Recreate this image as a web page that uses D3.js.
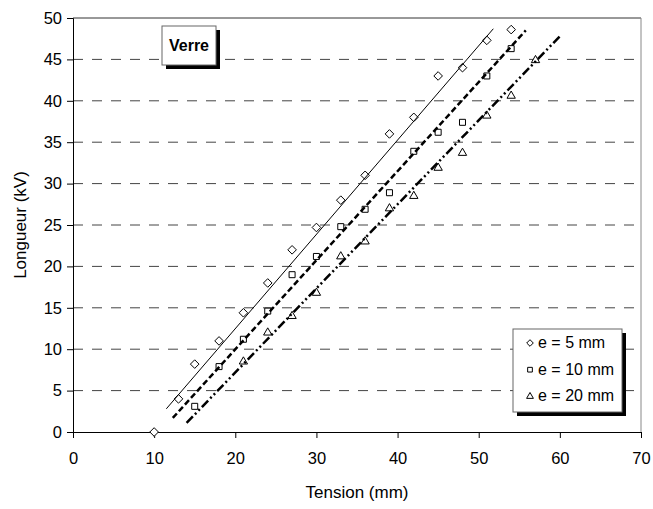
<!DOCTYPE html>
<html>
<head>
<meta charset="utf-8">
<script src="https://cdn.jsdelivr.net/npm/d3@7"></script>
<style>
  body { margin: 0; background: #fff; }
  text { font-family: "Liberation Sans", Arial, sans-serif; }
</style>
</head>
<body>
<div id="chart"></div>
<script>
// Data (Tension in mm, Longueur in kV)
const x5 = [10, 13, 15, 18, 21, 24, 27, 30, 33, 36, 39, 42, 45, 48, 51, 54];
const y5 = [0, 4, 8.2, 11, 14.4, 18, 22, 24.7, 28, 31, 36, 38, 43, 44, 47.3, 48.6];

const x10 = [15, 18, 21, 24, 27, 30, 33, 36, 39, 42, 45, 48, 51, 54];
const y10 = [3.1, 7.9, 11.2, 14.6, 19, 21.2, 24.8, 26.9, 28.9, 33.9, 36.2, 37.4, 43, 46.3];

const x20 = [21, 24, 27, 30, 33, 36, 39, 42, 45, 48, 51, 54, 57];
const y20 = [8.5, 12, 14, 16.8, 21.2, 23, 27, 28.5, 31.9, 33.7, 38.2, 40.6, 44.9];

// trendline end points
const trendX5 = [11.5, 51.8], trendY5 = [2.8, 48.7];
const trendX10 = [12.3, 55.8], trendY10 = [1.7, 48.5];
const trendX20 = [14.0, 60.1], trendY20 = [1.1, 47.9];

const xTicks = [0, 10, 20, 30, 40, 50, 60, 70];
const yTicks = [0, 5, 10, 15, 20, 25, 30, 35, 40, 45, 50];
const legendLabels = ["e = 5 mm", "e = 10 mm", "e = 20 mm"];

const margin = { top: 18, right: 12, bottom: 77, left: 73 };
const W = 653, H = 509;
const width = W - margin.left - margin.right;
const height = H - margin.top - margin.bottom;

const svg = d3.select("#chart").append("svg")
    .attr("width", W)
    .attr("height", H);

const g = svg.append("g")
    .attr("transform", `translate(${margin.left},${margin.top})`);

const xScale = d3.scaleLinear().domain([0, 70]).range([0, width]);
const yScale = d3.scaleLinear().domain([0, 50]).range([height, 0]);

// grid lines
g.selectAll(".grid")
    .data(yTicks.filter(d => d > 0 && d < 50))
    .enter()
    .append("line")
    .attr("x1", 0)
    .attr("x2", width)
    .attr("y1", d => yScale(d))
    .attr("y2", d => yScale(d))
    .attr("stroke", "#444")
    .attr("stroke-width", 1)
    .attr("stroke-dasharray", "10,9");

// plot border top and right
g.append("line").attr("x1", 0).attr("x2", width).attr("y1", 0).attr("y2", 0)
    .attr("stroke", "#333").attr("stroke-width", 1);
g.append("line").attr("x1", width).attr("x2", width).attr("y1", 0).attr("y2", height)
    .attr("stroke", "#888").attr("stroke-width", 1);

// axes
const xAxis = g.append("g")
    .attr("transform", `translate(0,${height})`)
    .call(d3.axisBottom(xScale).tickValues(xTicks).tickSize(6).tickPadding(14));
const yAxis = g.append("g")
    .call(d3.axisLeft(yScale).tickValues(yTicks).tickSize(6).tickPadding(5));

[xAxis, yAxis].forEach(a => {
    a.selectAll("path, line").attr("stroke", "#000");
    a.selectAll("text")
        .style("font-size", "16.5px")
        .style("font-family", "'Liberation Sans', Arial, sans-serif")
        .attr("fill", "#000");
});

// markers (diamond as a square turned 45 degrees)
const diamondPath = r => `M0,${-r}L${r},0L0,${r}L${-r},0Z`;
const square = d3.symbol().type(d3.symbolSquare).size(36);
const triangle = d3.symbol().type(d3.symbolTriangle).size(30);

const drawPoints = (xs, ys, sym) => {
    g.append("g").selectAll("path")
        .data(xs.map((x, i) => [x, ys[i]]))
        .enter()
        .append("path")
        .attr("d", sym)
        .attr("transform", d => `translate(${xScale(d[0])},${yScale(d[1])})`)
        .attr("fill", "#fff")
        .attr("stroke", "#000")
        .attr("stroke-width", 1);
};
drawPoints(x5, y5, diamondPath(4.3));
drawPoints(x10, y10, square);
drawPoints(x20, y20, triangle);

// trendlines
const drawTrend = (xs, ys, w, dash) => {
    g.append("line")
        .attr("x1", xScale(xs[0])).attr("y1", yScale(ys[0]))
        .attr("x2", xScale(xs[1])).attr("y2", yScale(ys[1]))
        .attr("stroke", "#000")
        .attr("stroke-width", w)
        .attr("stroke-dasharray", dash);
};
drawTrend(trendX5, trendY5, 1, null);
drawTrend(trendX10, trendY10, 2.5, "6,3");
drawTrend(trendX20, trendY20, 2.5, "9,3,2,3,2,3");

// "Verre" label box
svg.append("rect").attr("x", 166).attr("y", 30).attr("width", 54).attr("height", 39).attr("fill", "#000");
svg.append("rect").attr("x", 162).attr("y", 26).attr("width", 54).attr("height", 39)
    .attr("fill", "#fff").attr("stroke", "#666").attr("stroke-width", 1);
svg.append("text")
    .attr("x", 189).attr("y", 51)
    .attr("text-anchor", "middle")
    .style("font-size", "16px")
    .style("font-weight", "bold")
    .text("Verre");

// legend
const lg = svg.append("g");
lg.append("rect").attr("x", 517).attr("y", 333).attr("width", 109).attr("height", 83).attr("fill", "#000");
lg.append("rect").attr("x", 513).attr("y", 329).attr("width", 109).attr("height", 83)
    .attr("fill", "#fff").attr("stroke", "#666").attr("stroke-width", 1);
const legendSyms = [
    diamondPath(3.3),
    d3.symbol().type(d3.symbolSquare).size(22)(),
    d3.symbol().type(d3.symbolTriangle).size(20)()
];
legendLabels.forEach((lab, i) => {
    const cy = 342 + i * 26.7;
    lg.append("path")
        .attr("d", legendSyms[i])
        .attr("transform", `translate(530,${cy + 1})`)
        .attr("fill", "#fff").attr("stroke", "#000");
    lg.append("text")
        .attr("x", 538).attr("y", cy + 6)
        .style("font-size", "16px")
        .text(lab);
});

// axis titles
svg.append("text")
    .attr("x", margin.left + width / 2)
    .attr("y", 498)
    .attr("text-anchor", "middle")
    .style("font-size", "17px")
    .text("Tension (mm)");

svg.append("text")
    .attr("transform", "rotate(-90)")
    .attr("x", -(margin.top + height / 2))
    .attr("y", 26)
    .attr("text-anchor", "middle")
    .style("font-size", "17px")
    .text("Longueur (kV)");
</script>
</body>
</html>
